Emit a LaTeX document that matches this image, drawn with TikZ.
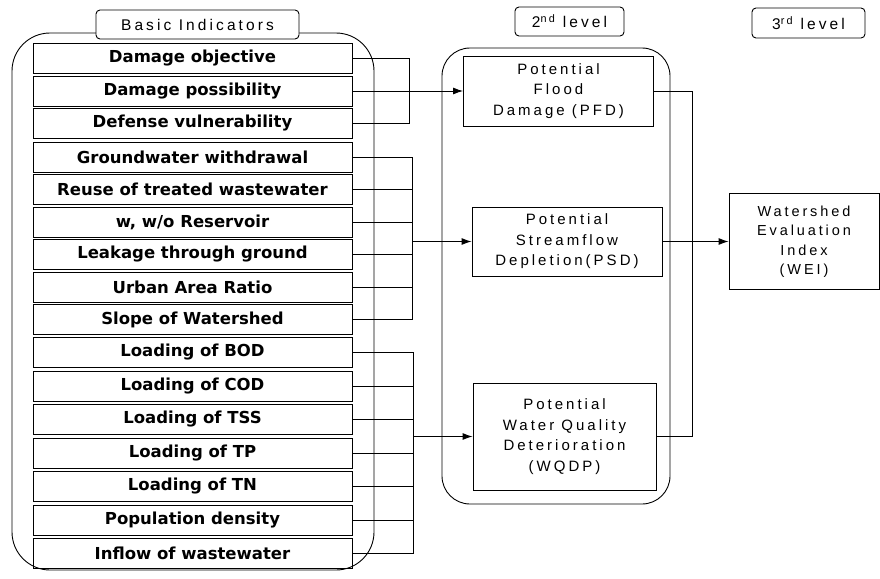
\documentclass[tikz,border=0pt]{standalone}
\usepackage{fontspec}
\setmainfont{Liberation Sans}
\newfontfamily\indfont{DejaVu Sans}
\newfontfamily\lblfont[LetterSpace=20]{Liberation Sans}
\usetikzlibrary{arrows.meta}
\tikzset{
  ln/.style={line width=0.9pt, draw=black},
  indbox/.style={ln, minimum width=319pt, minimum height=30pt, inner sep=0pt,
    font={\fontsize{16.5}{18}\indfont\bfseries}},
  hdbox/.style={ln, fill=white, rounded corners=4pt, inner sep=0pt,
    font={\fontsize{15.5}{18}\lblfont}},
  lvbox/.style={ln, inner sep=0pt, align=center,
    font={\fontsize{15}{20.5}\lblfont}},
  container/.style={ln, inner sep=0pt},
  arr/.style={ln, -{Latex[length=10pt,width=7pt]}},
  wire/.style={ln}
}
\begin{document}
\begin{tikzpicture}[x=1pt,y=-1pt]
\useasboundingbox (0,0) rectangle (880,578);
% containers
\node[container, rounded corners=38pt, minimum width=362pt, minimum height=537pt] (leftc) at (193,301.5) {};
\node[container, rounded corners=28pt, minimum width=228pt, minimum height=456pt] (midc) at (556,276) {};
% headings
\node[hdbox, minimum width=203pt, minimum height=29pt] (basic) at (197.5,24.5) {Basic Indicators};
\node[hdbox, minimum width=109pt, minimum height=29pt] (lev2) at (569.5,21.5) {2\textsuperscript{nd} level};
\node[hdbox, minimum width=113pt, minimum height=30pt] (lev3) at (808.5,23) {3\textsuperscript{rd} level};
% indicators
\node[indbox] (i1) at (192.5,58) {Damage objective};
\node[indbox] (i2) at (192.5,91) {Damage possibility};
\node[indbox] (i3) at (192.5,123.5) {Defense vulnerability};
\node[indbox] (i4) at (192.5,157) {Groundwater withdrawal};
\node[indbox] (i5) at (192.5,189.5) {Reuse of treated wastewater};
\node[indbox] (i6) at (192.5,222) {w, w/o Reservoir};
\node[indbox] (i7) at (192.5,254.5) {Leakage through ground};
\node[indbox] (i8) at (192.5,287) {Urban Area Ratio};
\node[indbox] (i9) at (192.5,319.5) {Slope of Watershed};
\node[indbox] (i10) at (192.5,352.5) {Loading of BOD};
\node[indbox] (i11) at (192.5,386) {Loading of COD};
\node[indbox] (i12) at (192.5,419.5) {Loading of TSS};
\node[indbox] (i13) at (192.5,453) {Loading of TP};
\node[indbox] (i14) at (192.5,486.5) {Loading of TN};
\node[indbox] (i15) at (192.5,520) {Population density};
\node[indbox] (i16) at (192.5,553.5) {Inflow of wastewater};
% second level
\node[lvbox, minimum width=190pt, minimum height=70pt] (pfd) at (558.5,91) {Potential\\Flood\\Damage (PFD)};
\node[lvbox, minimum width=190pt, minimum height=69pt] (psd) at (567,241.5) {Potential\\Streamflow\\Depletion(PSD)};
\node[lvbox, minimum width=183pt, minimum height=107pt] (wqdp) at (564.5,436.5) {Potential\\Water Quality\\Deterioration\\(WQDP)};
% third level
\node[lvbox, minimum width=150pt, minimum height=96pt, font={\fontsize{14.5}{19.5}\lblfont}] (wei) at (804,241.5) {Watershed\\Evaluation\\Index\\(WEI)};
% bus points
\coordinate (bus1) at (409,91);
\coordinate (bus2) at (412,241.5);
\coordinate (bus3) at (413,436.5);
\coordinate (obus) at (692,241.5);
% group 1
\draw[wire] (i1.east) -| (bus1);
\draw[wire] (i3.east) -| (bus1);
\draw[arr] (i2.east) -- (pfd.west);
% group 2
\draw[wire] (i4.east) -| (bus2);
\draw[wire] (i9.east) -| (bus2);
\foreach \n in {5,6,7,8} \draw[wire] (i\n.east) -- (i\n.east -| bus2);
\draw[arr] (bus2) -- (psd.west);
% group 3
\draw[wire] (i10.east) -| (bus3);
\draw[wire] (i16.east) -| (bus3);
\foreach \n in {11,12,13,14,15} \draw[wire] (i\n.east) -- (i\n.east -| bus3);
\draw[arr] (bus3) -- (wqdp.west);
% outputs
\draw[wire] (pfd.east) -| (obus);
\draw[wire] (wqdp.east) -| (obus);
\draw[arr] (psd.east) -- (wei.west);
\end{tikzpicture}
\end{document}
